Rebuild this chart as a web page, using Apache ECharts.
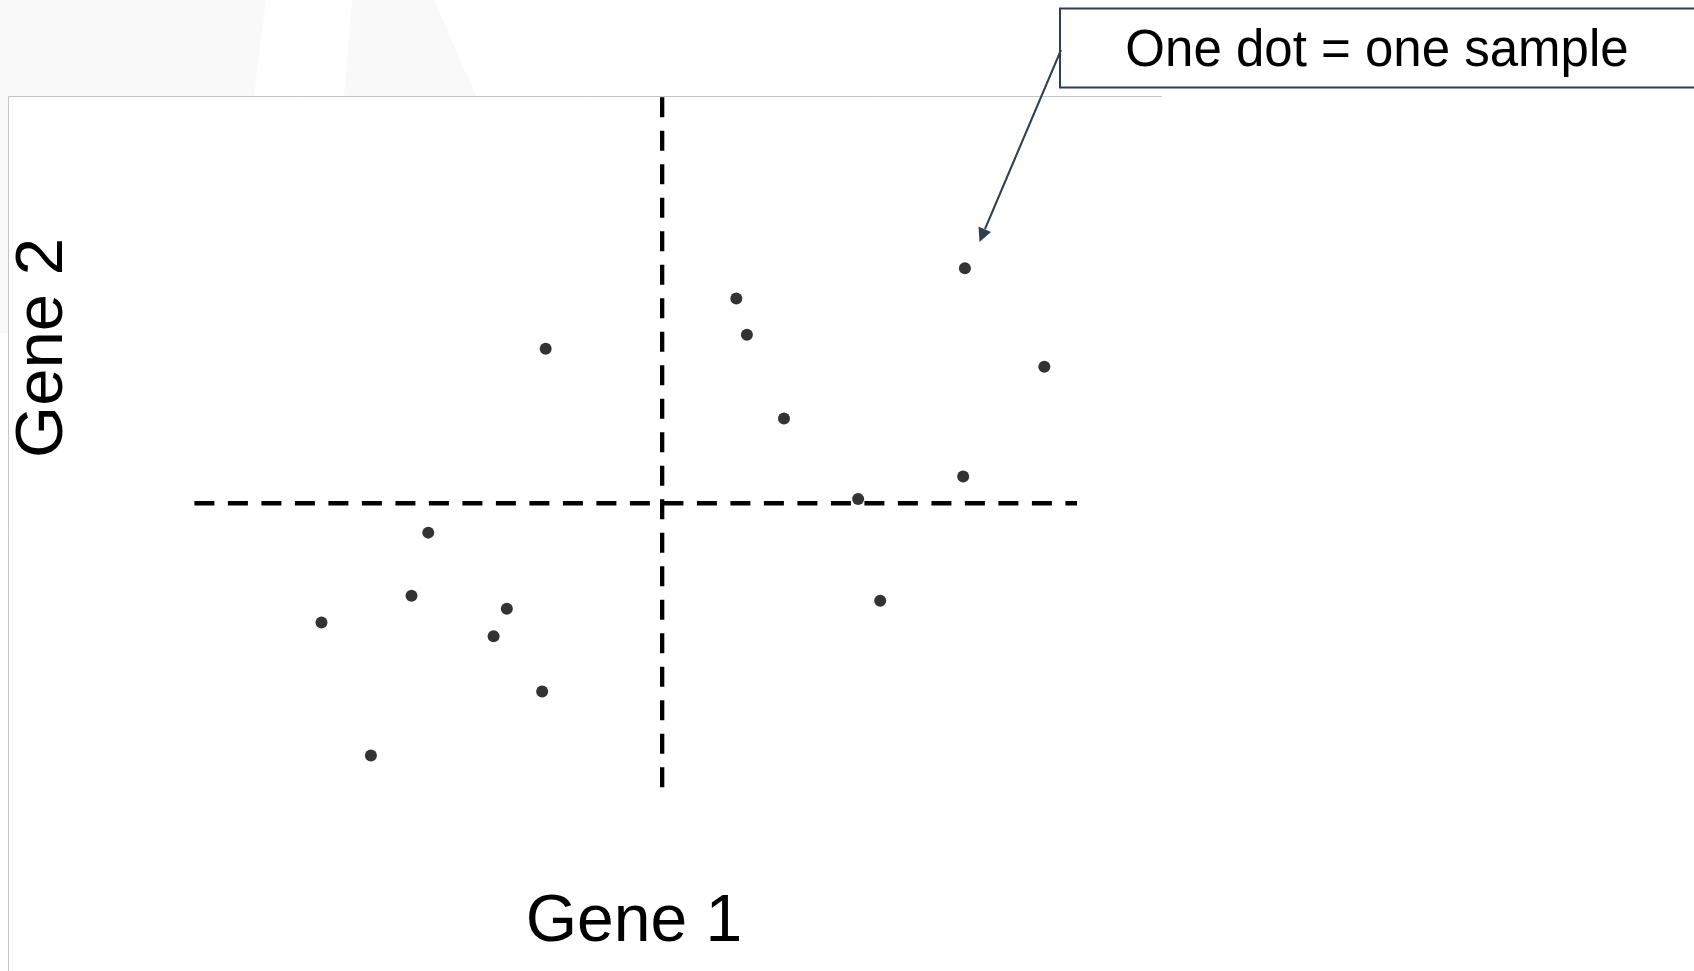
<!DOCTYPE html>
<html>
<head>
<meta charset="utf-8">
<style>
  html, body { margin: 0; padding: 0; background: #ffffff; }
  #chart { width: 1694px; height: 971px; }
</style>
<script src="https://cdn.jsdelivr.net/npm/echarts@6/dist/echarts.min.js"></script>
</head>
<body>
<div id="chart"></div>
<script>
// ---- data ----
const sampleIds = ['S1','S2','S3','S4','S5','S6','S7','S8','S9','S10','S11','S12','S13','S14','S15','S16'];
const gene1 = [8.73, 6.14, 6.26, 3.98, 9.63, 6.68, 8.71, 7.52, 2.65, 2.46, 7.77, 3.54, 1.44, 3.39, 3.94, 2.00];
const gene2 = [6.02, 5.67, 5.25, 5.09, 4.88, 4.28, 3.61, 3.35, 2.96, 2.23, 2.17, 2.08, 1.92, 1.76, 1.12, 0.38];
const gene1Range = [0, 10];
const gene2Range = [0, 8];
const gene1Split = [5.3];
const gene2Split = [3.3];
const xLabel = ['Gene 1'];
const yLabel = ['Gene 2'];
const noteText = ['One dot = one sample'];

// ---- build ----
const points = gene1.map((x, i) => [x, gene2[i], sampleIds[i]]);
const vLine = [[gene1Split[0], gene2Range[1]], [gene1Split[0], gene2Range[0]]];
const hLine = [[gene1Range[0], gene2Split[0]], [gene1Range[1], gene2Split[0]]];

const FONT = '"Liberation Sans", Arial, Helvetica, sans-serif';
const chart = echarts.init(document.getElementById('chart'), null, { renderer: 'canvas' });

const dashStyle = { color: '#000000', width: 4.3, type: [20, 13.5], cap: 'butt' };

chart.setOption({
  animation: false,
  backgroundColor: '#ffffff',
  grid: { left: 194.4, top: 97.3, width: 882.6, height: 691, containLabel: false },
  xAxis: { type: 'value', min: gene1Range[0], max: gene1Range[1], show: false },
  yAxis: { type: 'value', min: gene2Range[0], max: gene2Range[1], show: false },
  graphic: [
    // faint slide background shapes
    { type: 'polygon', z: -10, silent: true,
      shape: { points: [[0,0],[266,0],[254,96],[8,96],[8,333],[0,333]] },
      style: { fill: '#f9f9f9' } },
    { type: 'polygon', z: -10, silent: true,
      shape: { points: [[352,0],[434,0],[476,96],[344,96]] },
      style: { fill: '#f9f9f9' } },
    // panel border (left + top)
    { type: 'polyline', z: -5, silent: true,
      shape: { points: [[8.5, 971],[8.5, 96.5],[1162, 96.5]] },
      style: { stroke: '#c4c4c4', lineWidth: 1, fill: null } },
    // axis titles
    { type: 'text', z: 10, silent: true, x: 634, y: 923,
      style: { text: xLabel[0], font: '66px ' + FONT, fill: '#000000', align: 'center', verticalAlign: 'middle' } },
    { type: 'text', z: 10, silent: true, x: 44, y: 348, rotation: Math.PI / 2,
      style: { text: yLabel[0], font: '67px ' + FONT, fill: '#000000', align: 'center', verticalAlign: 'middle' } },
    // callout box
    { type: 'rect', z: 10, silent: true,
      shape: { x: 1060, y: 8.6, width: 640, height: 79 },
      style: { fill: '#ffffff', stroke: '#2e3f50', lineWidth: 2 } },
    { type: 'text', z: 11, silent: true, x: 1377, y: 52,
      style: { text: noteText[0], font: '51px ' + FONT, fill: '#000000', align: 'center', verticalAlign: 'middle' } },
    // arrow
    { type: 'line', z: 10, silent: true,
      shape: { x1: 1061, y1: 50, x2: 985, y2: 229 },
      style: { stroke: '#2e3f50', lineWidth: 2 } },
    { type: 'polygon', z: 10, silent: true,
      shape: { points: [[979.5, 242], [991, 232], [978.5, 226.5]] },
      style: { fill: '#2e3f50' } }
  ],
  series: [
    { type: 'line', data: vLine, symbol: 'none', silent: true, lineStyle: dashStyle, z: 2 },
    { type: 'line', data: hLine, symbol: 'none', silent: true, lineStyle: dashStyle, z: 2 },
    { type: 'scatter', data: points, symbol: 'circle', symbolSize: 12, silent: true,
      itemStyle: { color: '#000000' }, z: 3 }
  ]
});
</script>
</body>
</html>
